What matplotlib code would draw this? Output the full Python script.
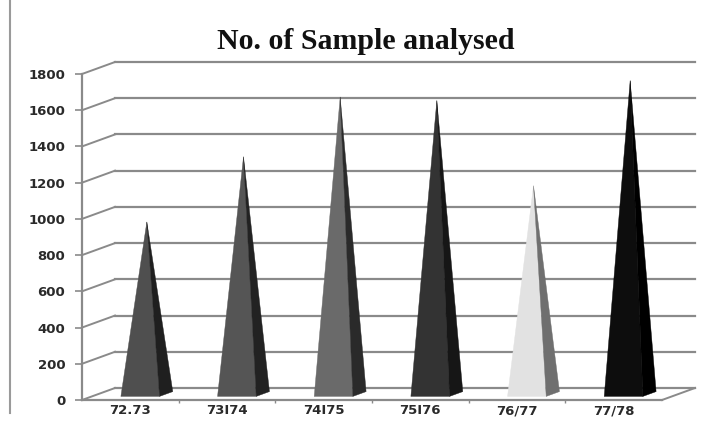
import matplotlib
matplotlib.use("Agg")
import matplotlib.pyplot as plt
from matplotlib.patches import Polygon
from matplotlib.lines import Line2D

# ---- data ----
categories = ["72.73", "73I74", "74I75", "75I76", "76/77", "77/78"]
values = [950, 1310, 1640, 1620, 1150, 1730]
front_colors = ["#4f4f4f", "#555555", "#6a6a6a", "#333333", "#e2e2e2", "#0d0d0d"]
side_colors = ["#1f1f1f", "#222222", "#2a2a2a", "#161616", "#6f6f6f", "#000000"]
yticks = [0, 200, 400, 600, 800, 1000, 1200, 1400, 1600, 1800]
title = "No. of Sample analysed"

W, H = 716, 426
fig = plt.figure(figsize=(W / 100, H / 100), dpi=100)
fig.patch.set_facecolor("white")

# front plane of the 3D box
left_px, right_px, bottom_px, top_px = 82, 662, 26, 352
ax = fig.add_axes([left_px / W, bottom_px / H, (right_px - left_px) / W, (top_px - bottom_px) / H])
ymax = yticks[-1]
ax.set_xlim(-0.5, len(categories) - 0.5)
ax.set_ylim(0, ymax)

cat_px = (right_px - left_px) / len(categories)
val_px = (top_px - bottom_px) / ymax
DX = 33 / cat_px      # depth offset in x data units
DY = 12 / val_px      # depth offset in y data units


def P(x, v, d):
    return (x + d * DX, v + d * DY)


grid_color = "#8a8a8a"
x0, x1 = -0.5, len(categories) - 0.5

# back wall gridlines + left wall oblique lines
for v in yticks:
    a = P(x0, v, 1); b = P(x1, v, 1)
    ax.add_line(Line2D([a[0], b[0]], [a[1], b[1]], color=grid_color, lw=1.6, clip_on=False, zorder=1))
    c = P(x0, v, 0)
    ax.add_line(Line2D([c[0], a[0]], [c[1], a[1]], color=grid_color, lw=1.4, clip_on=False, zorder=1))

# floor right edge
a = P(x1, 0, 0); b = P(x1, 0, 1)
ax.add_line(Line2D([a[0], b[0]], [a[1], b[1]], color=grid_color, lw=1.4, clip_on=False, zorder=1))

# pyramids
hw, d0, d1 = 0.2, 0.3, 0.7
for i, (v, fc, sc) in enumerate(zip(values, front_colors, side_colors)):
    apex = P(i, v, 0.5)
    fl = P(i - hw, 0, d0); fr = P(i + hw, 0, d0); br = P(i + hw, 0, d1)
    ax.add_patch(Polygon([fl, fr, apex], closed=True, facecolor=fc, edgecolor=fc, lw=0.3, clip_on=False, zorder=3))
    ax.add_patch(Polygon([fr, br, apex], closed=True, facecolor=sc, edgecolor=sc, lw=0.3, clip_on=False, zorder=3))

# axes styling
for s in ["top", "right"]:
    ax.spines[s].set_visible(False)
ax.spines["left"].set_color(grid_color)
ax.spines["left"].set_linewidth(1.6)
ax.spines["bottom"].set_color(grid_color)
ax.spines["bottom"].set_linewidth(1.6)
ax.patch.set_alpha(0)

ax.set_yticks(yticks)
ax.set_yticklabels([str(t) for t in yticks])
ax.tick_params(axis="y", length=5, width=1.2, color=grid_color, pad=7,
               labelsize=9.5, labelcolor="#2a2a2a")
for lab in ax.get_yticklabels():
    lab.set_fontweight("bold")

ax.set_xticks(range(len(categories)))
ax.set_xticklabels(categories)
ax.set_xticks([i + 0.5 for i in range(len(categories) - 1)], minor=True)
ax.tick_params(axis="x", which="major", length=0, pad=3, labelsize=9.5, labelcolor="#2a2a2a")
ax.tick_params(axis="x", which="minor", length=2, width=1, color=grid_color)
for lab in ax.get_xticklabels():
    lab.set_fontweight("bold")

# title
fig.text(366 / W, 1 - 49 / H, title, ha="center", va="baseline",
         fontfamily="Liberation Serif", fontweight="bold", fontsize=21.5, color="#111111")

# left border line of the picture
fig.add_artist(Line2D([10 / W, 10 / W], [1 - 413 / H, 1.0], transform=fig.transFigure,
                      color="#9a9a9a", lw=1.5))

fig.savefig("out.png", dpi=100, facecolor="white")
